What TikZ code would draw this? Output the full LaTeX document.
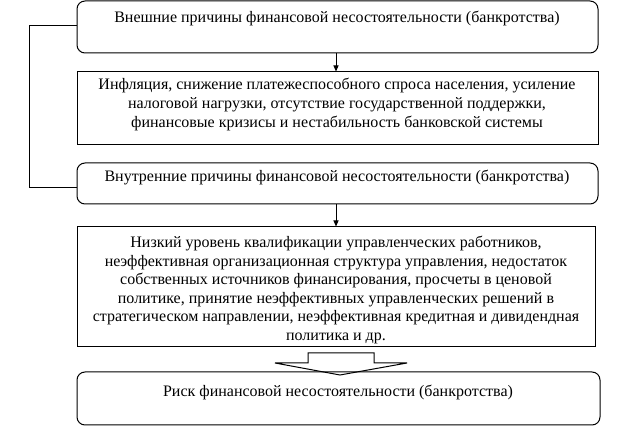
\documentclass[tikz,border=0pt]{standalone}
\usepackage{fontspec}
\setmainfont{Liberation Serif}
\usetikzlibrary{arrows.meta}
\tikzset{
  frame/.style={draw, line width=1pt, inner sep=0pt},
  rframe/.style={frame, rounded corners=8pt},
  txt/.style={align=center, inner sep=0pt, font=\fontsize{16}{18.6}\selectfont},
  conn/.style={line width=1pt, -{Triangle[length=6pt,width=5pt]}},
  plain/.style={line width=1pt},
}
\begin{document}
\begin{tikzpicture}[x=1pt,y=-1pt]
\useasboundingbox (0,0) rectangle (624,427);
% boxes
\node[rframe, minimum width=521pt, minimum height=52pt] (b1) at (337.5,27) {};
\node[txt] (t1) at (337,18) {Внешние причины финансовой несостоятельности (банкротства)};
\node[frame, minimum width=521pt, minimum height=73pt] (b2) at (337.5,108.5) {};
\node[txt] (t2) at (337,104.5) {Инфляция, снижение платежеспособного спроса населения, усиление\\налоговой нагрузки, отсутствие государственной поддержки,\\финансовые кризисы и нестабильность банковской системы};
\node[rframe, minimum width=521pt, minimum height=41pt] (b3) at (337.5,183.5) {};
\node[txt] (t3) at (337,178) {Внутренние причины финансовой несостоятельности (банкротства)};
\node[frame, minimum width=518pt, minimum height=120pt] (b4) at (336,287) {};
\node[txt] (t4) at (336,290) {Низкий уровень квалификации управленческих работников,\\неэффективная организационная структура управления, недостаток\\собственных источников финансирования, просчеты в ценовой\\политике, принятие неэффективных управленческих решений в\\стратегическом направлении, неэффективная кредитная и дивидендная\\политика и др.};
\node[rframe, minimum width=523pt, minimum height=53pt] (b5) at (338.5,398.5) {};
\node[txt] (t5) at (338,392) {Риск финансовой несостоятельности (банкротства)};
% connectors
\draw[conn] (b1.south -| 336,0) -- (b2.north -| 336,0);
\draw[conn] (b3.south -| 336,0) -- (b4.north -| 336,0);
\coordinate (l1) at (29,26);
\coordinate (l2) at (29,188);
\draw[plain] (b1.west |- l1) -- (l1) -- (l2) -- (b3.west |- l2);
% block arrow
\draw[plain, line join=miter] (308,353) -- (374,353) -- (374,363) -- (407,363) -- (340,375) -- (275,363) -- (308,363) -- cycle;
\end{tikzpicture}
\end{document}
